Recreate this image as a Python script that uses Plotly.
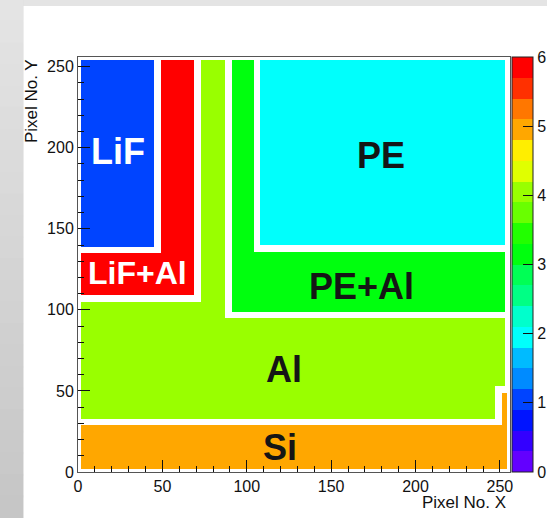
import colorsys
import numpy as np
import plotly.graph_objects as go

# ---------------- data ----------------
n_pix = 256
materials = ["LiF", "PE", "PE+Al", "Al", "Si", "LiF+Al"]
material_values = [1, 2, 3, 4, 5, 6]
# pixel blocks (x_start, x_end, y_start, y_end) in pixel numbers
lif_blocks = [(2, 45, 139, 254)]
pe_blocks = [(108, 253, 140, 254)]
peal_blocks = [(91, 104, 136, 254), (91, 253, 99, 136)]
al_blocks = [(73, 87, 105, 254), (2, 87, 95, 105), (2, 253, 53, 95), (2, 247, 33, 53)]
si_blocks = [(2, 254, 2, 29), (251, 254, 29, 49)]
lifal_blocks = [(49, 69, 109, 254), (2, 69, 109, 135)]
material_blocks = [lif_blocks, pe_blocks, peal_blocks, al_blocks, si_blocks, lifal_blocks]

label_x = [23.5, 179.5, 168, 122, 119.5, 35.5]
label_y = [197.5, 195.5, 114.5, 63.5, 15, 123]

axis_ticks = [0, 50, 100, 150, 200, 250]
cbar_ticks = [0, 1, 2, 3, 4, 5, 6]

# ---------------- grid ----------------
z = np.full((n_pix, n_pix), np.nan)
for val, blocks in zip(material_values, material_blocks):
    for x0, x1, y0, y1 in blocks:
        z[y0:y1, x0:x1] = val

# ROOT "pretty" palette, 20 contours
ndiv = 20
cols = []
for k in range(ndiv):
    idx = int((k + 0.99) * 50 / ndiv)
    hue = 280 - (idx + 1) * 280 / 50
    r, g, b = colorsys.hsv_to_rgb(hue / 360.0, 1, 1)
    cols.append("rgb(%d,%d,%d)" % (round(r * 255), round(g * 255), round(b * 255)))
cscale = []
eps = 1e-6
for k in range(ndiv):
    lo = 0 if k == 0 else k / ndiv - eps
    hi = 1 if k == ndiv - 1 else (k + 1) / ndiv - eps
    cscale.append([lo, cols[k]])
    cscale.append([hi, cols[k]])

fig = go.Figure()
fig.add_trace(go.Heatmap(
    z=z, x0=0.5, dx=1, y0=0.5, dy=1,
    zmin=0, zmax=6, colorscale=cscale, hoverinfo="skip",
    colorbar=dict(
        x=1.0046, xanchor="left", xpad=0, y=0, yanchor="bottom", ypad=0,
        len=1, lenmode="fraction", thickness=21,
        outlinewidth=1, outlinecolor="#222",
        tickvals=cbar_ticks, ticks="inside", ticklen=10, tickcolor="#111",
        tickfont=dict(family="Liberation Sans, Arial", size=16, color="#111"),
    ),
))

# region labels
for name, lx, ly in zip(materials, label_x, label_y):
    white = name in ("LiF", "LiF+Al")
    fig.add_annotation(
        x=lx, y=ly, text="<b>%s</b>" % name, showarrow=False,
        font=dict(family="Liberation Sans, Arial", size=32 if name == "LiF+Al" else 36,
                  color="white" if white else "#151515"),
        xanchor="center", yanchor="middle",
    )

# axis titles (ROOT style, right/top aligned)
fig.add_annotation(xref="paper", yref="paper", x=0.995, y=-0.046, xanchor="right", yanchor="top",
                   text="Pixel No. X", showarrow=False,
                   font=dict(family="Liberation Sans, Arial", size=17, color="#111"))
fig.add_annotation(xref="paper", yref="paper", x=-0.082, y=1.0, xanchor="right", yanchor="top",
                   text="Pixel No. Y", textangle=-90, showarrow=False,
                   font=dict(family="Liberation Sans, Arial", size=17, color="#111"))

# background: gray border with white canvas
shapes = []
W, H = 547, 518
pl, pr, pt, pb = 77.5, 510, 57, 472
def px2x(px):
    return (px - pl) / (pr - pl)
def py2y(py):
    return (pb - py) / (pb - pt)
nb = 24
for i in range(nb):
    t = i / (nb - 1)
    c = int(round(228 - 30 * t))
    shapes.append(dict(type="rect", xref="paper", yref="paper", layer="below",
                       x0=px2x(-2), x1=px2x(23), y0=py2y(i * H / nb - 1), y1=py2y((i + 1) * H / nb + 1),
                       fillcolor="rgb(%d,%d,%d)" % (c, c, c), line=dict(width=0)))
shapes.append(dict(type="rect", xref="paper", yref="paper", layer="below",
                   x0=px2x(23), x1=px2x(560), y0=py2y(-2), y1=py2y(6),
                   fillcolor="#e4e4e4", line=dict(width=0)))
shapes.append(dict(type="rect", xref="paper", yref="paper", layer="below",
                   x0=px2x(23), x1=px2x(560), y0=py2y(6), y1=py2y(530),
                   fillcolor="white", line=dict(width=0)))

axis_common = dict(
    range=[0, 256], tickvals=axis_ticks, ticks="inside", ticklen=12, tickcolor="#111",
    minor=dict(dtick=10, tick0=0, ticks="inside", ticklen=6, tickcolor="#111"),
    showgrid=False, zeroline=False, showline=True, mirror=True,
    linecolor="#555", linewidth=1,
    tickfont=dict(family="Liberation Sans, Arial", size=16, color="#111"),
)

fig.update_layout(
    width=W, height=H,
    margin=dict(l=pl, r=W - pr, t=pt, b=H - pb, autoexpand=False),
    paper_bgcolor="#dddddd", plot_bgcolor="white",
    xaxis=dict(**axis_common),
    yaxis=dict(**axis_common),
    shapes=shapes, showlegend=False,
)

fig.write_html("out.html", config={"displayModeBar": False},
               post_script="document.body.style.margin='0';document.body.style.overflow='hidden';")
